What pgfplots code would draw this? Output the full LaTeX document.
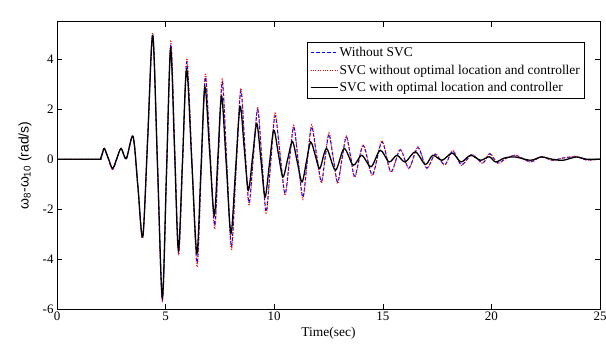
\documentclass[border=0pt]{standalone}
\usepackage{pgfplots}
\pgfplotsset{compat=1.18}
\usepackage{fontspec}
\setmainfont{Liberation Serif}
\setsansfont{Liberation Sans}
\begin{document}
\begin{tikzpicture}
\begin{axis}[
  scale only axis, width=543bp, height=287bp,
  xmin=0, xmax=25, ymin=-6, ymax=5.5,
  xtick={0,5,...,25}, ytick={-6,-4,...,4},
  tick align=inside, major tick length=5bp,
  axis line style={line width=1pt},
  every tick/.style={black, line width=0.6pt},
  /pgf/number format/assume math mode=true,
  tick label style={font=\fontsize{13}{15}\selectfont},
  xticklabel style={yshift=1bp},
  xlabel={Time(sec)},
  xlabel style={font=\fontsize{13.5}{15}\selectfont, at={(axis description cs:0.5,-0.084)}, anchor=center},
  ylabel={\sffamily ω\textsubscript{8}-ω\textsubscript{10} (rad/s)},
  ylabel style={font=\fontsize{14}{16}\selectfont, at={(axis description cs:-0.059,0.5)}, anchor=center},
  legend style={at={(0.972,0.930)}, anchor=north east, draw=black, line width=0.8pt,
    font=\fontsize{13.5}{15}\selectfont, row sep=-1.5bp, inner xsep=3bp, inner ysep=1bp,
    nodes={inner xsep=1.5bp, inner ysep=4bp}},
  legend cell align=left,
  legend image code/.code={\draw[#1] (0bp,0bp) -- (27bp,0bp);},
]
\coordinate (BL) at (rel axis cs:0,0);
\coordinate (TR) at (rel axis cs:1,1);
\addplot[color=blue, line width=1pt, dash pattern=on 3.5bp off 2bp, smooth] coordinates {
(0,0) (1.9,0) (2.0,0.01) (2.09,0.24) (2.18,0.43) (2.37,0.0) (2.56,-0.40) (2.75,0.0) (2.95,0.43) (3.19,0.0) (3.50,0.92) (3.725,-1.10) (3.95,-3.12) (4.18,0.94) (4.41,5.0) (4.63,-0.32) (4.85,-5.65) (5.045,-0.5) (5.24,4.6) (5.42,0.42) (5.60,-3.75) (5.79,0.08) (5.98,3.9) (6.215,-0.12) (6.45,-4.15) (6.64,-0.42) (6.83,3.3) (7.045,0.32) (7.26,-2.65) (7.435,0.22) (7.61,3.1) (7.82,-0.2) (8.03,-3.5) (8.245,-0.38) (8.46,2.75) (8.65,0.48) (8.84,-1.75) (9.04,0.12) (9.24,2.0) (9.435,-0.05) (9.63,-2.1) (9.835,-0.17) (10.04,1.75) (10.27,0.19) (10.50,-1.38) (10.70,-0.05) (10.90,1.30) (11.11,-0.12) (11.32,-1.52) (11.52,-0.10) (11.72,1.30) (11.945,0.2) (12.17,-0.9) (12.345,0.05) (12.52,1.0) (12.72,0.03) (12.92,-0.92) (13.12,0.0) (13.32,0.9) (13.52,0.1) (13.72,-0.68) (14.10,0.55) (14.52,-0.62) (14.96,0.7) (15.37,-0.5) (15.80,0.38) (16.20,-0.35) (16.62,0.47) (17.02,-0.35) (17.42,0.2) (17.85,-0.22) (18.22,0.33) (18.62,-0.22) (19.10,0.18) (19.60,-0.15) (19.92,0.22) (20.30,-0.15) (20.7,0.05) (21.15,0.15) (21.8,-0.1) (22.3,0.1) (22.8,-0.04) (23.3,0.05) (23.9,0.1) (24.4,-0.03) (25,0.02)
};
\addlegendentry{Without SVC}
\addplot[color=red, line width=1.1pt, dash pattern=on 0.8bp off 1.6bp, smooth] coordinates {
(0,0) (1.9,0) (2.0,0.01) (2.09,0.25) (2.18,0.45) (2.37,0.0) (2.56,-0.42) (2.75,0.0) (2.95,0.45) (3.19,0.0) (3.50,0.92) (3.725,-1.12) (3.95,-3.15) (4.18,0.95) (4.41,5.05) (4.63,-0.34) (4.85,-5.72) (5.045,-0.50) (5.24,4.72) (5.42,0.44) (5.60,-3.85) (5.79,0.10) (5.98,4.05) (6.215,-0.14) (6.45,-4.32) (6.64,-0.44) (6.83,3.45) (7.045,0.33) (7.26,-2.80) (7.435,0.23) (7.61,3.25) (7.82,-0.20) (8.03,-3.65) (8.245,-0.40) (8.46,2.85) (8.65,0.50) (8.84,-1.85) (9.04,0.13) (9.24,2.10) (9.435,-0.05) (9.63,-2.20) (9.835,-0.18) (10.04,1.85) (10.27,0.20) (10.50,-1.45) (10.70,-0.05) (10.90,1.35) (11.11,-0.13) (11.32,-1.60) (11.52,-0.11) (11.72,1.38) (11.945,0.22) (12.17,-0.95) (12.345,0.05) (12.52,1.05) (12.72,0.03) (12.92,-0.98) (13.12,0.0) (13.32,0.95) (13.52,0.1) (13.72,-0.72) (14.10,0.58) (14.52,-0.66) (14.96,0.75) (15.37,-0.52) (15.80,0.40) (16.20,-0.38) (16.62,0.50) (17.02,-0.37) (17.42,0.22) (17.85,-0.24) (18.22,0.36) (18.62,-0.24) (19.10,0.20) (19.60,-0.17) (19.92,0.24) (20.30,-0.17) (20.7,0.05) (21.15,0.16) (21.8,-0.12) (22.3,0.12) (22.8,-0.05) (23.3,0.05) (23.9,0.12) (24.4,-0.04) (25,0.02)
};
\addlegendentry{SVC without optimal location and controller}
\addplot[color=black, line width=1.3pt, smooth] coordinates {
(0,0) (1.9,0) (2.0,0.01) (2.09,0.23) (2.18,0.43) (2.37,0.02) (2.56,-0.37) (2.75,0.02) (2.95,0.43) (3.19,0.03) (3.50,0.92) (3.725,-1.09) (3.95,-3.1) (4.18,0.93) (4.41,4.96) (4.63,-0.30) (4.85,-5.55) (5.04,-0.56) (5.23,4.43) (5.41,0.40) (5.59,-3.64) (5.78,-0.03) (5.97,3.59) (6.205,-0.09) (6.44,-3.77) (6.625,-0.44) (6.81,2.89) (7.025,0.33) (7.24,-2.24) (7.41,0.14) (7.58,2.52) (7.795,-0.23) (8.01,-2.97) (8.22,-0.43) (8.43,2.12) (8.62,0.44) (8.81,-1.24) (9.005,0.10) (9.20,1.43) (9.39,-0.04) (9.58,-1.51) (9.78,-0.18) (9.98,1.16) (10.19,0.23) (10.40,-0.71) (10.62,0.0) (10.84,0.71) (11.06,-0.10) (11.28,-0.91) (11.48,-0.11) (11.68,0.69) (11.89,0.16) (12.10,-0.37) (12.41,0.43) (12.82,-0.44) (13.22,0.43) (13.64,-0.24) (14.03,0.16) (14.46,-0.30) (14.88,0.36) (15.29,-0.11) (15.65,0.16) (16.03,-0.11) (16.50,0.30) (16.96,-0.21) (17.30,0.16) (17.73,-0.04) (18.20,0.25) (18.60,-0.11) (19.04,0.16) (19.50,-0.04) (19.90,0.10) (20.20,-0.11) (20.6,0.05) (21.1,0.09) (21.8,-0.04) (22.3,0.09) (22.8,0.0) (23.3,-0.04) (23.9,0.09) (24.4,0.0) (25,0.0)
};
\addlegendentry{SVC with optimal location and controller}
\node[anchor=south west, inner sep=0pt, font=\fontsize{12}{14}\selectfont] at ([yshift=3bp]rel axis cs:0,1) {x 10\textsuperscript{-3}};
\end{axis}
\pgfresetboundingbox
\path ([shift={(-57bp,-36bp)}]BL) rectangle ([shift={(6bp,22bp)}]TR);
\end{tikzpicture}
\end{document}
